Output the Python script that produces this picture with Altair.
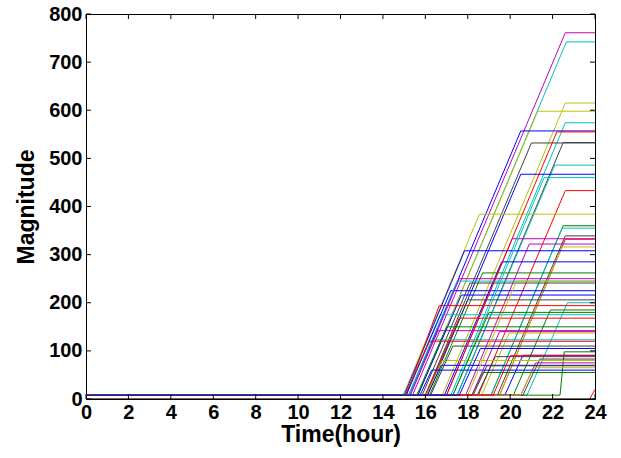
import altair as alt
import pandas as pd

# MATLAB classic colour order
COL = {"b": "#0000FF", "g": "#008000", "r": "#FF0000", "c": "#00BFBF",
       "m": "#BF00BF", "y": "#BFBF00", "k": "#404040"}

line_colors = ["m", "c", "y", "y", "c", "b", "k", "k", "c",
               "b", "r", "y", "g", "c", "k", "r", "m", "m", "y",
               "b", "b", "g", "k", "b", "k", "c", "r", "g", "c",
               "r", "m", "y", "c", "g", "b", "k", "k", "m", "b",
               "k", "y", "g", "b", "m", "c", "r", "g", "y", "k",
               "b", "r", "c", "y", "m", "r", "g", "b", "c", "r"]
ramp_start = [15.40, 15.65, 16.80, 15.65, 17.20, 15.25, 16.00, 17.50, 17.50,
              16.10, 18.50, 14.95, 19.10, 19.10, 19.40, 19.50, 17.00, 17.90, 19.50,
              15.00, 16.90, 16.20, 15.85, 15.65, 16.05, 20.80, 15.10, 20.15, 15.05,
              16.00, 15.25, 18.65, 15.25, 22.35, 19.75, 18.45, 20.60, 20.50, 16.10,
              18.25, 20.50, 18.20, 15.10, 15.30, 15.20, 15.05, 15.60, 16.05, 16.25,
              15.75, 17.00, 17.30, 18.00, 18.20, 19.20, 17.30, 17.60, 24.00, 23.75]
ramp_end = [22.60, 22.65, 22.60, 21.30, 22.60, 20.50, 21.00, 22.50, 22.10,
            20.50, 22.60, 18.55, 22.50, 22.45, 22.60, 22.60, 20.10, 20.90, 22.45,
            17.85, 19.60, 18.70, 18.10, 17.70, 18.00, 22.70, 16.65, 21.90, 16.70,
            17.60, 16.60, 19.95, 16.40, 22.55, 20.60, 19.30, 21.40, 21.20, 16.75,
            18.90, 21.10, 18.70, 17.20, 17.60, 17.50, 16.20, 17.00, 16.80, 17.30,
            16.30, 22.20, 21.60, 20.30, 19.50, 20.00, 19.00, 18.60, 24.00, 24.00]
plateau = [761, 742, 615, 598, 574, 557, 532, 533, 486,
           467, 433, 384, 360, 355, 339, 332, 333, 322, 316,
           308, 285, 262, 241, 216, 206, 200, 194, 185, 175,
           168, 142, 137, 123, 98, 91, 88, 83, 75, 70,
           69, 65, 55, 225, 250, 245, 120, 150, 80, 110,
           60, 555, 460, 245, 140, 90, 180, 105, 0, 20]
baseline = [8, 8, 8, 8, 8, 8, 8, 8, 8,
            8, 8, 8, 8, 8, 8, 8, 8, 8, 8,
            8, 8, 8, 8, 8, 8, 8, 8, 8, 8,
            8, 8, 8, 8, 8, 8, 8, 8, 8, 8,
            8, 8, 8, 8, 8, 8, 8, 8, 8, 8,
            8, 8, 8, 8, 8, 8, 8, 8, 1, 0]

x_ticks = list(range(0, 25, 2))
y_ticks = list(range(0, 801, 100))

rows = []
for i in range(len(plateau)):
    pts = [(0.0, baseline[i]), (ramp_start[i], baseline[i]),
           (ramp_end[i], plateau[i]), (24.0, plateau[i])]
    for k, (t, v) in enumerate(pts):
        rows.append({"id": i, "k": k, "t": t, "v": v, "col": COL[line_colors[i]]})
df = pd.DataFrame(rows)

W, H = 509, 385
FONT = "Liberation Sans"

xs = alt.Scale(domain=[0, 24], nice=False, zero=False)
ys = alt.Scale(domain=[0, 800], nice=False)

lines = alt.Chart(df).mark_line(strokeWidth=1, clip=True).encode(
    x=alt.X("t:Q", scale=xs, title="Time(hour)",
            axis=alt.Axis(values=x_ticks, tickSize=0, labelPadding=3, grid=False,
                          domainColor="black", labelFontSize=20, labelFontWeight="bold",
                          labelFont=FONT, labelColor="black", titleFont=FONT,
                          titleFontSize=23, titleFontWeight="bold", titleColor="black",
                          titlePadding=1, labelFlush=False)),
    y=alt.Y("v:Q", scale=ys, title="Magnitude",
            axis=alt.Axis(values=y_ticks, tickSize=0, labelPadding=4, grid=False,
                          domainColor="black", labelFontSize=20, labelFontWeight="bold",
                          labelFont=FONT, labelColor="black", titleFont=FONT,
                          titleFontSize=23, titleFontWeight="bold", titleColor="black",
                          titlePadding=10, labelFlush=False)),
    color=alt.Color("col:N", scale=None),
    detail="id:N",
    order="k:Q",
)

xt = pd.DataFrame({"t": x_ticks})
yt = pd.DataFrame({"v": y_ticks})
tick_len = 5
xb = alt.Chart(xt).mark_rule(color="black", strokeWidth=1).encode(
    x=alt.X("t:Q", scale=xs), y=alt.value(H), y2=alt.value(H - tick_len))
xtop = alt.Chart(xt).mark_rule(color="black", strokeWidth=1).encode(
    x=alt.X("t:Q", scale=xs), y=alt.value(0), y2=alt.value(tick_len))
yl = alt.Chart(yt).mark_rule(color="black", strokeWidth=1).encode(
    y=alt.Y("v:Q", scale=ys), x=alt.value(0), x2=alt.value(tick_len))
yr = alt.Chart(yt).mark_rule(color="black", strokeWidth=1).encode(
    y=alt.Y("v:Q", scale=ys), x=alt.value(W), x2=alt.value(W - tick_len))

chart = alt.layer(lines, xb, xtop, yl, yr).properties(
    width=W, height=H,
    autosize=alt.AutoSizeParams(type="none"),
    padding={"left": 86, "top": 14, "right": 26, "bottom": 59},
    background="white",
).configure_view(stroke="black", strokeWidth=1)

chart.save("out.html", embed_options={"renderer": "svg", "actions": False})
